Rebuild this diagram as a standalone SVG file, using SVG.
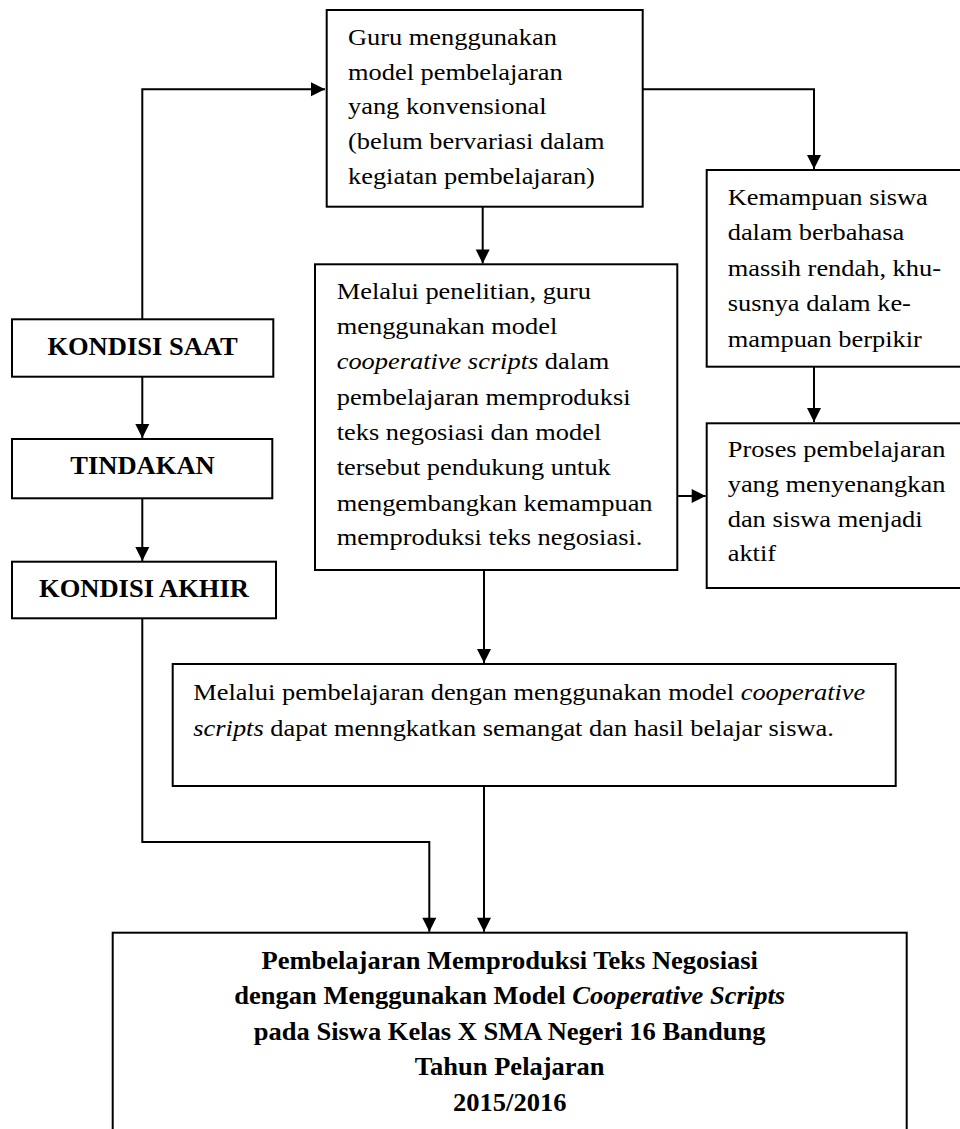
<svg xmlns="http://www.w3.org/2000/svg" width="960" height="1129" viewBox="0 0 960 1129">
<style>
.box{fill:#fff;stroke:#000;stroke-width:2}
.t{font-family:"Liberation Serif","Times New Roman",serif;font-size:24px;fill:#000}
.b{font-family:"Liberation Serif","Times New Roman",serif;font-size:25.5px;font-weight:bold;fill:#000}
.c{fill:none;stroke:#000;stroke-width:2}
</style>
<defs>
<marker id="ah" markerUnits="userSpaceOnUse" markerWidth="16" markerHeight="16" viewBox="0 0 16 16" refX="15" refY="8" orient="auto">
<path d="M1,1 L15,8 L1,15 Z" fill="#000"/>
</marker>
</defs>
<rect width="960" height="1129" fill="#fff"/>
<g id="connectors">
<path class="c" d="M142.3,319 V89.3 H325" marker-end="url(#ah)"/>
<path class="c" d="M642.7,89.3 H814 V169" marker-end="url(#ah)"/>
<path class="c" d="M482.7,206.7 V263.5" marker-end="url(#ah)"/>
<path class="c" d="M814,366.7 V422" marker-end="url(#ah)"/>
<path class="c" d="M677.3,496 H705.7" marker-end="url(#ah)"/>
<path class="c" d="M142.3,377 V438" marker-end="url(#ah)"/>
<path class="c" d="M142.3,498.3 V561" marker-end="url(#ah)"/>
<path class="c" d="M484,570 V663" marker-end="url(#ah)"/>
<path class="c" d="M142.3,618.3 V842 H429.3 V931.7" marker-end="url(#ah)"/>
<path class="c" d="M484,786 V931.7" marker-end="url(#ah)"/>
</g>
<g id="n-guru">
<rect class="box" x="326.7" y="10" width="316" height="196.7"/>
<text class="t" transform="matrix(1.1 0 0 1 348 0)"><tspan x="0" y="45">Guru menggunakan</tspan><tspan x="0" y="80">model pembelajaran</tspan><tspan x="0" y="114.5">yang konvensional</tspan><tspan x="0" y="149">(belum bervariasi dalam</tspan><tspan x="0" y="184">kegiatan pembelajaran)</tspan></text>
</g>
<g id="n-kemampuan">
<rect class="box" x="706.7" y="170" width="260" height="196.7"/>
<text class="t" transform="matrix(1.1 0 0 1 727.7 0)"><tspan x="0" y="205">Kemampuan siswa</tspan><tspan x="0" y="240.5">dalam berbahasa</tspan><tspan x="0" y="276">massih rendah, khu-</tspan><tspan x="0" y="311.5">susnya dalam ke-</tspan><tspan x="0" y="347">mampuan berpikir</tspan></text>
</g>
<g id="n-melalui">
<rect class="box" x="315" y="264.3" width="362.3" height="305.7"/>
<text class="t" transform="matrix(1.1 0 0 1 336.7 0)"><tspan x="0" y="299.3">Melalui penelitian, guru</tspan><tspan x="0" y="334.3">menggunakan model</tspan><tspan x="0" y="369.3"><tspan font-style="italic">cooperative scripts</tspan> dalam</tspan><tspan x="0" y="404.6">pembelajaran memproduksi</tspan><tspan x="0" y="440">teks negosiasi dan model</tspan><tspan x="0" y="475.3">tersebut pendukung untuk</tspan><tspan x="0" y="510.6">mengembangkan kemampuan</tspan><tspan x="0" y="545.5">memproduksi teks negosiasi.</tspan></text>
</g>
<g id="n-proses">
<rect class="box" x="706.7" y="423.3" width="260" height="164.7"/>
<text class="t" transform="matrix(1.1 0 0 1 727.7 0)"><tspan x="0" y="457">Proses pembelajaran</tspan><tspan x="0" y="492">yang menyenangkan</tspan><tspan x="0" y="527">dan siswa menjadi</tspan><tspan x="0" y="561.5">aktif</tspan></text>
</g>
<g id="n-kondisi-saat">
<rect class="box" x="12" y="319.3" width="261.3" height="57.4"/>
<text class="b" text-anchor="middle" transform="matrix(1.04 0 0 1 142.5 0)" x="0" y="355.5">KONDISI SAAT</text>
</g>
<g id="n-tindakan">
<rect class="box" x="12" y="439" width="260.3" height="59.3"/>
<text class="b" text-anchor="middle" transform="matrix(1.04 0 0 1 142.5 0)" x="0" y="474.5">TINDAKAN</text>
</g>
<g id="n-kondisi-akhir">
<rect class="box" x="12" y="561.7" width="264" height="56.6"/>
<text class="b" text-anchor="middle" transform="matrix(1.04 0 0 1 144 0)" x="0" y="597">KONDISI AKHIR</text>
</g>
<g id="n-hasil">
<rect class="box" x="172.7" y="664" width="723" height="122"/>
<text class="t" transform="matrix(1.1 0 0 1 193.3 0)"><tspan x="0" y="700">Melalui pembelajaran dengan menggunakan model <tspan font-style="italic">cooperative</tspan></tspan><tspan x="0" y="736"><tspan font-style="italic">scripts</tspan> dapat menngkatkan semangat dan hasil belajar siswa.</tspan></text>
</g>
<g id="n-judul">
<rect class="box" x="112.7" y="932.7" width="794" height="210"/>
<text class="b" text-anchor="middle" transform="matrix(1.04 0 0 1 509.7 0)"><tspan x="0" y="969">Pembelajaran Memproduksi Teks Negosiasi</tspan><tspan x="0" y="1004.5">dengan Menggunakan Model <tspan font-style="italic">Cooperative Scripts</tspan></tspan><tspan x="0" y="1040">pada Siswa Kelas X SMA Negeri 16 Bandung</tspan><tspan x="0" y="1075.5">Tahun Pelajaran</tspan><tspan x="0" y="1111">2015/2016</tspan></text>
</g>
</svg>
